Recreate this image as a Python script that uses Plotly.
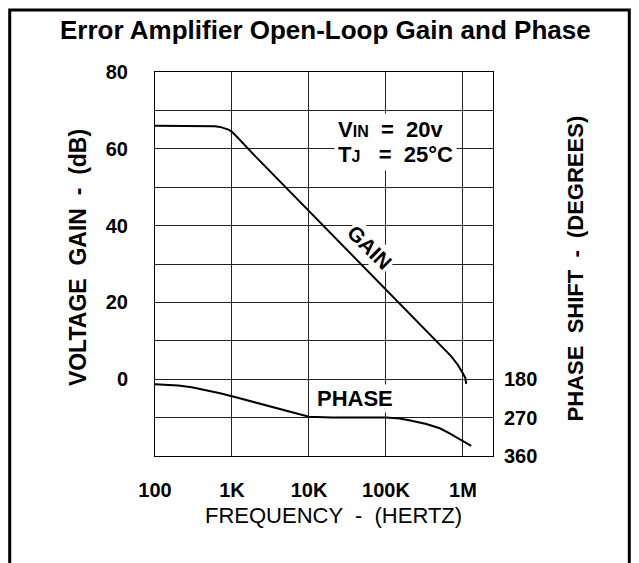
import plotly.graph_objects as go

# ---- data ----
gain_freq_hz = [100, 300, 450, 600, 700, 800, 900, 1000, 1100, 1200, 2000, 10000, 100000,
                700000, 860000, 930000, 1000000, 1075000, 1100000]
gain_db = [66, 66, 66, 65.9, 65.7, 65.4, 65.0, 64.4, 63.6, 62.8, 58.1, 43.8, 23.3,
           6.0, 3.7, 2.7, 1.5, 0.3, -1.2]

phase_freq_hz = [100, 200, 300, 500, 700, 1000, 2000, 5000, 10000, 20000, 50000, 100000,
                 150000, 200000, 334000, 500000, 670000, 1000000, 1280000]
phase_deg = [192, 195, 199, 207, 213, 220, 234, 254, 268, 270, 270, 270,
             272, 276, 285, 295, 307, 324, 336]

x_tick_vals = [100, 1000, 10000, 100000, 1000000]
x_tick_text = ["100", "1K", "10K", "100K", "1M"]
gain_tick_vals = [-20, -10, 0, 10, 20, 30, 40, 50, 60, 70, 80]
gain_tick_text = ["", "", "0", "", "20", "", "40", "", "60", "", "80"]
phase_tick_vals = [180, 270, 360]
phase_tick_text = ["180", "270", "360"]

FONT = "Arial, Liberation Sans, Helvetica, sans-serif"

fig = go.Figure()
fig.add_trace(go.Scatter(x=gain_freq_hz, y=gain_db, mode="lines",
                         line=dict(color="black", width=2), showlegend=False,
                         yaxis="y"))
fig.add_trace(go.Scatter(x=phase_freq_hz, y=phase_deg, mode="lines",
                         line=dict(color="black", width=2), showlegend=False,
                         yaxis="y2"))

# page has an 8px body margin; plot area wanted at page px 155..493.5 x 72..456
OFF = 8
W, H = 639 - OFF, 563 - OFF
PL, PR, PT, PB = 155, 493.5, 72, 456
L = PL - OFF
T = PT - OFF
R = W - (PR - OFF)
B = H - (PB - OFF)
pw = PR - PL
ph = PB - PT

def px_x(px):
    return (px - PL) / pw

def px_y(py):
    return (PB - py) / ph

fig.update_layout(
    width=W, height=H,
    margin=dict(l=L, r=R, t=T, b=B, pad=0),
    paper_bgcolor="white", plot_bgcolor="white",
    font=dict(family=FONT, color="black"),
    xaxis=dict(type="log", range=[2, 6.39], tickvals=x_tick_vals, ticktext=x_tick_text,
               showgrid=True, gridcolor="#222", gridwidth=1,
               showline=True, linecolor="black", linewidth=1, mirror=True,
               ticks="", tickfont=dict(size=20, weight="bold"),
               ticklabelstandoff=16, zeroline=False),
    yaxis=dict(range=[-20, 80], tickvals=gain_tick_vals, ticktext=gain_tick_text,
               showgrid=True, gridcolor="#222", gridwidth=1,
               showline=True, linecolor="black", linewidth=1, mirror=True,
               ticks="", tickfont=dict(size=20, weight="bold"),
               ticklabelstandoff=22, zeroline=False),
    yaxis2=dict(range=[360, -540], overlaying="y", side="right",
                tickvals=phase_tick_vals, ticktext=phase_tick_text,
                showgrid=False, showline=False, zeroline=False, ticks="",
                tickfont=dict(size=20, weight="bold"), ticklabelstandoff=10),
)

annotations = [
    dict(text="Error Amplifier Open-Loop Gain and Phase", xref="paper", yref="paper",
         x=px_x(326), y=px_y(30), showarrow=False, xanchor="center", yanchor="middle",
         font=dict(size=26, weight="bold")),
    dict(text="VOLTAGE  GAIN  -  (dB)", xref="paper", yref="paper",
         x=px_x(78), y=px_y(258), showarrow=False, textangle=-90,
         xanchor="center", yanchor="middle", font=dict(size=23, weight="bold")),
    dict(text="PHASE  SHIFT  -  (DEGREES)", xref="paper", yref="paper",
         x=px_x(576), y=px_y(268), showarrow=False, textangle=-90,
         xanchor="center", yanchor="middle", font=dict(size=22, weight="bold")),
    dict(text="FREQUENCY  -  (HERTZ)", xref="paper", yref="paper",
         x=px_x(334), y=px_y(515), showarrow=False,
         xanchor="center", yanchor="middle", font=dict(size=22)),
    dict(text="V<span style='font-size:16px'>IN</span>  =  20v",
         xref="x", yref="y", x=4.33, y=64.9, showarrow=False, align="left",
         xanchor="left", yanchor="middle", bgcolor="white", borderpad=3,
         font=dict(size=22, weight="bold")),
    dict(text="T<span style='font-size:16px'>J</span>   =  25°C",
         xref="x", yref="y", x=4.33, y=58.4, showarrow=False, align="left",
         xanchor="left", yanchor="middle", bgcolor="white", borderpad=3,
         font=dict(size=22, weight="bold")),
    dict(text="GAIN", xref="x", yref="y", x=4.79, y=34.2, showarrow=False,
         textangle=45, bgcolor="white", font=dict(size=21, weight="bold")),
    dict(text="PHASE", xref="x", yref="y", x=4.594, y=-4.9, showarrow=False,
         bgcolor="white", font=dict(size=22, weight="bold")),
]
fig.update_layout(annotations=annotations)

# outer frame (page px: left 9.5, right 630, top 10, bottom off-page)
fig.add_shape(type="rect", xref="paper", yref="paper",
              x0=px_x(9.5), x1=px_x(630), y0=px_y(620), y1=px_y(10),
              line=dict(color="black", width=3), layer="above")

fig.write_html("out.html")
